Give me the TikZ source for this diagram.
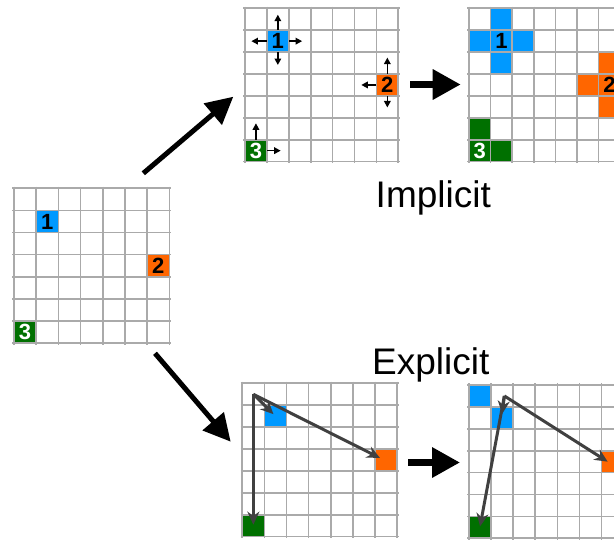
\documentclass[tikz,border=0pt]{standalone}
\usepackage{fontspec}
\setmainfont{Liberation Sans}
\usetikzlibrary{arrows.meta}
\definecolor{cblue}{RGB}{0,153,255}
\definecolor{corange}{RGB}{255,102,0}
\definecolor{cgreen}{RGB}{0,112,0}
\definecolor{cgrid}{RGB}{170,170,170}
\definecolor{cdark}{RGB}{64,64,64}
\newcommand\cw{22pt}
\newcommand\ch{22pt}
\newcommand\gridlines[2]{%
  \foreach \i in {0,...,#1} \draw[gridline] (\i,-0.08) -- (\i,#2+0.08);
  \foreach \j in {0,...,#2} \draw[gridline] (-0.08,\j) -- (#1+0.08,\j);
}
\tikzset{
  gridline/.style={cgrid, line width=1.7pt},
  cell/.style={minimum width=\cw, minimum height=\ch, inner sep=0pt, draw=none,
    font=\fontsize{22}{22}\selectfont\bfseries},
  bigarrow/.style={line width=5pt, -{Triangle[length=27pt,width=27pt]}},
  flatarrow/.style={line width=6.5pt, -{Triangle[length=28pt,width=29pt]}},
  smallarrow/.style={line width=1.6pt, -{Triangle[length=6.5pt,width=6.5pt]}},
  patharrow/.style={cdark, line width=3pt, -{Stealth[length=13pt,width=12pt]}},
  methodtext/.style={font=\fontsize{37}{37}\selectfont, anchor=base, inner sep=0pt},
}
\begin{document}
\begin{tikzpicture}[x=1pt,y=-1pt]
\useasboundingbox (0,0) rectangle (614,542);
\clip (0,0) rectangle (614,542);
\fill[white] (0,0) rectangle (614,542);

% ---------- left grid ----------
\begin{scope}[shift={(14,188.3)}, x=22.2pt, y=-22.1pt]
  \renewcommand\cw{22.2pt}\renewcommand\ch{22.1pt}
  \node[cell, fill=cblue] (L1) at (1.5,1.5) {1};
  \node[cell, fill=corange] (L2) at (6.5,3.5) {2};
  \node[cell, fill=cgreen, text=white] (L3) at (0.5,6.5) {3};
  \gridlines{7}{7}
\end{scope}

% ---------- top middle grid (implicit, step) ----------
\begin{scope}[shift={(245,8.3)}, x=21.9pt, y=-21.9pt]
  \renewcommand\cw{21.9pt}\renewcommand\ch{21.9pt}
  \node[cell, fill=cblue] (T1) at (1.5,1.5) {1};
  \node[cell, fill=corange] (T2) at (6.5,3.5) {2};
  \node[cell, fill=cgreen, text=white] (T3) at (0.5,6.5) {3};
  \gridlines{7}{7}
  \draw[smallarrow] (T1.north) -- ++(0,-0.7);
  \draw[smallarrow] (T1.south) -- ++(0,0.58);
  \draw[smallarrow] (T1.west) -- ++(-0.7,0);
  \draw[smallarrow] (T1.east) -- ++(0.6,0);
  \draw[smallarrow] (T2.north) -- ++(0,-0.74);
  \draw[smallarrow] (T2.south) -- ++(0,0.52);
  \draw[smallarrow] (T2.west) -- ++(-0.68,0);
  \draw[smallarrow] (T3.north) -- ++(0,-0.74);
  \draw[smallarrow] (T3.east) -- ++(0.62,0);
\end{scope}

% ---------- top right grid (implicit, result) ----------
\begin{scope}[shift={(469,8.3)}, x=21.6pt, y=-21.9pt]
  \renewcommand\cw{21.6pt}\renewcommand\ch{21.9pt}
  \node[cell, fill=cblue] (R1a) at (1.5,0.5) {};
  \node[cell, fill=cblue] (R1b) at (0.5,1.5) {};
  \node[cell, fill=cblue] (R1c) at (2.5,1.5) {};
  \node[cell, fill=cblue] (R1d) at (1.5,2.5) {};
  \node[cell, fill=corange] (R2a) at (6.5,2.5) {};
  \node[cell, fill=corange] (R2b) at (5.5,3.5) {};
  \node[cell, fill=corange] (R2c) at (7.5,3.5) {};
  \node[cell, fill=corange] (R2d) at (6.5,4.5) {};
  \node[cell, fill=cgreen] (R3a) at (0.5,5.5) {};
  \node[cell, fill=cgreen] (R3b) at (1.5,6.5) {};
  \node[cell, fill=cblue] (R1) at (1.5,1.5) {1};
  \node[cell, fill=corange] (R2) at (6.5,3.5) {2};
  \node[cell, fill=cgreen, text=white] (R3) at (0.5,6.5) {3};
  \gridlines{8}{7}
\end{scope}

% ---------- bottom middle grid (explicit) ----------
\begin{scope}[shift={(242.3,383.3)}, x=22.1pt, y=-21.9pt]
  \renewcommand\cw{22.1pt}\renewcommand\ch{21.9pt}
  \node[cell, fill=cblue] (B1) at (1.5,1.5) {};
  \node[cell, fill=corange] (B2) at (6.5,3.5) {};
  \node[cell, fill=cgreen] (B3) at (0.5,6.5) {};
  \gridlines{7}{7}
  \coordinate (Bs) at (0.5,0.5);
  \draw[patharrow] (Bs) -- ([shift={(-2pt,2pt)}]B1.center);
  \draw[patharrow] (Bs) -- ([shift={(-6pt,2pt)}]B2.center);
  \draw[patharrow] (Bs) -- ([shift={(0pt,1pt)}]B3.center);
\end{scope}

% ---------- bottom right grid (explicit, result) ----------
\begin{scope}[shift={(469,385)}, x=22.1pt, y=-21.9pt]
  \renewcommand\cw{22.1pt}\renewcommand\ch{21.9pt}
  \node[cell, fill=cblue] (C1a) at (0.5,0.5) {};
  \node[cell, fill=cblue] (C1) at (1.5,1.5) {};
  \node[cell, fill=corange] (C2) at (6.5,3.5) {};
  \node[cell, fill=cgreen] (C3) at (0.5,6.5) {};
  \gridlines{8}{7}
  \coordinate (Cs) at (1.6,0.5);
  \draw[patharrow] (Cs) -- ([shift={(0pt,4pt)}]C1.center);
  \draw[patharrow] (Cs) -- ([shift={(-5pt,0pt)}]C2.center);
  \draw[patharrow] (Cs) -- ([shift={(0pt,1pt)}]C3.center);
\end{scope}

% ---------- big arrows ----------
\coordinate (A1s) at (143.3,173.3);
\coordinate (A1e) at (233.3,96.7);
\coordinate (A2s) at (155,353.3);
\coordinate (A2e) at (230.7,441.7);
\coordinate (A3s) at (410,84.5);
\coordinate (A3e) at (460.7,84.5);
\coordinate (A4s) at (408.3,462.5);
\coordinate (A4e) at (460,462.5);
\draw[bigarrow] (A1s) -- (A1e);
\draw[bigarrow] (A2s) -- (A2e);
\draw[flatarrow] (A3s) -- (A3e);
\draw[flatarrow] (A4s) -- (A4e);

% ---------- labels ----------
\node[methodtext] (impl) at (433.3,207.3) {Implicit};
\node[methodtext] (expl) at (430.8,374) {Explicit};
\end{tikzpicture}
\end{document}
